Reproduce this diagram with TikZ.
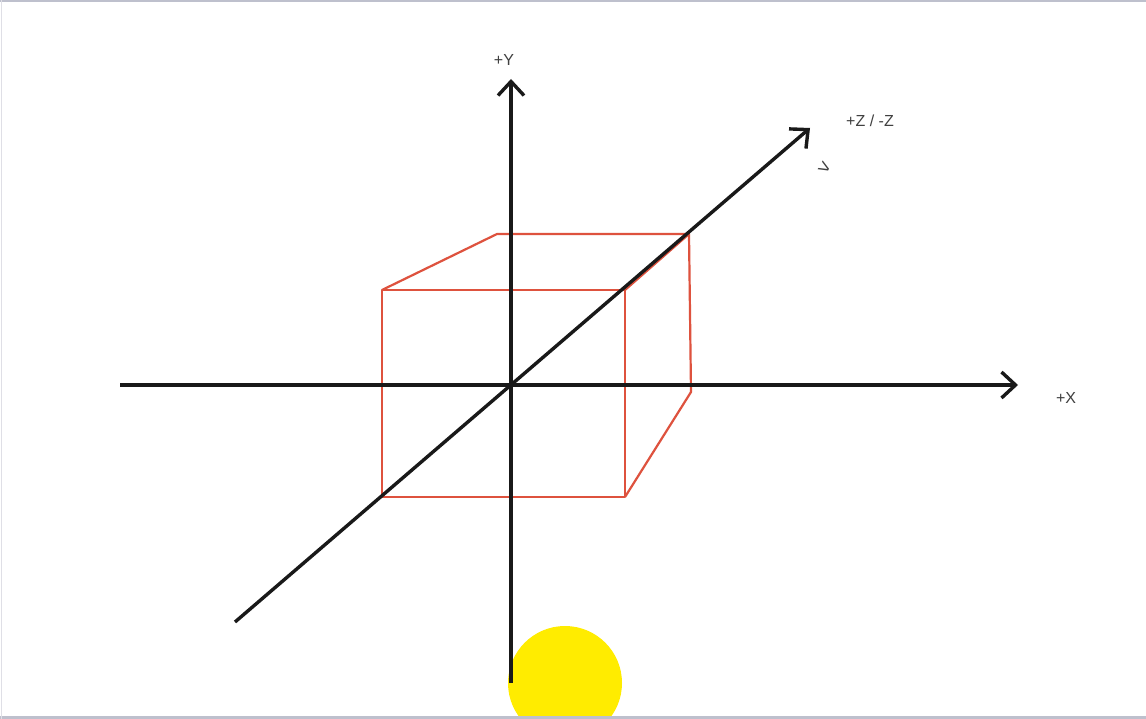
\documentclass[tikz,border=0pt]{standalone}
\usepackage{fontspec}
\setmainfont{Liberation Sans}
\usetikzlibrary{arrows.meta}
\definecolor{cubered}{RGB}{222,82,62}
\definecolor{sunyellow}{RGB}{255,236,0}
\definecolor{framegray}{RGB}{190,192,205}
\tikzset{
  axis/.style={line width=3.4pt, black!90, -{Straight Barb[length=14pt,width=26pt,line width=3.4pt]}},
  cube/.style={line width=2.2pt, cubered, line join=round},
  lbl/.style={font=\fontsize{16}{18}\selectfont, text=black!75, inner sep=0pt}
}
\begin{document}
\begin{tikzpicture}[x=1pt,y=-1pt]
\useasboundingbox (0,0) rectangle (1146,719);
\fill[white] (0,0) rectangle (1146,719);
\begin{scope}
\clip (0,0) rectangle (1146,716);
\fill[sunyellow] (565,683) circle (57);
\end{scope}
\draw[framegray, line width=2pt] (0,1) -- (1146,1);
\draw[framegray, line width=3pt] (0,717.5) -- (1146,717.5);
\draw[framegray!50, line width=1pt] (1,0) -- (1,719);
% cube
\coordinate (ftl) at (382,290);
\coordinate (ftr) at (625,290);
\coordinate (fbr) at (625,497);
\coordinate (fbl) at (382,497);
\coordinate (btl) at (497,234);
\coordinate (btr) at (689,234);
\coordinate (bbr) at (691,392);
\draw[cube] (ftl) -- (ftr) -- (fbr) -- (fbl) -- cycle;
\draw[cube] (ftl) -- (btl) -- (btr) -- (bbr) -- (fbr);
\draw[cube] (ftr) -- (btr);
% axes
\coordinate (xs) at (120,385);
\coordinate (xe) at (1018,385);
\coordinate (ys) at (511,683);
\coordinate (ye) at (511,79);
\coordinate (zs) at (235,622);
\coordinate (ze) at (810,128);
\draw[axis] (xs) -- (xe);
\draw[axis] (ys) -- (ye);
\draw[axis] (zs) -- (ze);
% labels
\node[lbl] (ly) at (504,60) {+Y};
\node[lbl] (lz) at (870,121) {+Z / -Z};
\node[lbl, font=\fontsize{20}{20}\selectfont, rotate=-30] (lm) at (824,168) {>};
\node[lbl] (lx) at (1066,398) {+X};
\end{tikzpicture}
\end{document}
